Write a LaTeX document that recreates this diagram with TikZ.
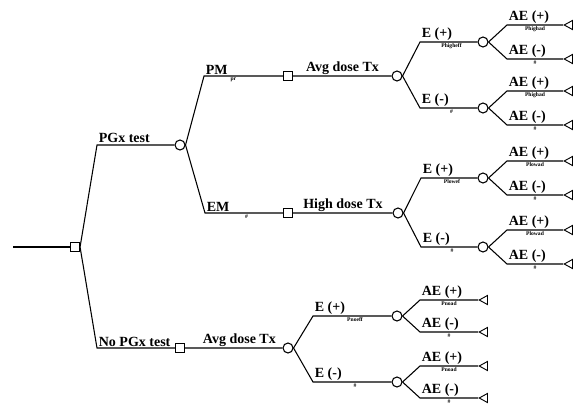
\documentclass[tikz,border=0pt]{standalone}
\usepackage{fontspec}
\setmainfont{Liberation Serif}
\usetikzlibrary{calc,shapes.geometric}

\begin{document}
\begin{tikzpicture}[x=0.75pt,y=-0.75pt,line width=0.8pt,
  chance/.style={circle,draw,fill=white,inner sep=0pt,minimum size=7.5pt},
  decision/.style={rectangle,draw,fill=white,inner sep=0pt,minimum size=6.8pt},
  terminal/.style={isosceles triangle,isosceles triangle stretches,shape border rotate=180,draw,fill=white,inner sep=0pt,minimum width=6.8pt,minimum height=6.2pt,line width=0.7pt},
  lbl/.style={font=\fontsize{10.5}{12}\selectfont\bfseries,inner sep=1pt},
  prob/.style={font=\fontsize{4.2}{5}\selectfont\bfseries,inner sep=1pt}]
\useasboundingbox (0,0) rectangle (581,407);
% root decision
\coordinate (r) at (13,247);
\node[decision] (d0) at (75,247) {};
\draw (r) -- (d0);
% test / no test
\coordinate (k1) at (97,145);
\node[chance] (c1) at (180,145) {};
\draw (d0.east) -- (k1) -- (c1);
\node[lbl,anchor=south west] (lPGx) at (k1) {PGx test};
\coordinate (k2) at (97,348);
\node[decision] (d2) at (180,348) {};
\node[chance] (c2) at (288,348) {};
\draw (d0.east) -- (k2) -- (d2) -- (c2);
\node[lbl,anchor=south west] (lNoPGx) at (k2) {No PGx test};
\node[lbl,above] (lAvg2) at ($(d2)!.55!(c2)$) {Avg dose Tx};
% phenotypes
\coordinate (kPM) at (204,76);
\node[decision] (dPM) at (288,76) {};
\node[chance] (cPM) at (397,76) {};
\draw (c1.east) -- (kPM) -- (dPM) -- (cPM);
\node[lbl,anchor=south west] (lPM) at (kPM) {PM};
\node[prob,below] (pPM) at ($(kPM)!.35!(dPM)$) {pr};
\node[lbl,above] (lAvgPM) at ($(dPM)!.5!(cPM)$) {Avg dose Tx};
\coordinate (kEM) at (205,213);
\node[decision] (dEM) at (288,213) {};
\node[chance] (cEM) at (398,213) {};
\draw (c1.east) -- (kEM) -- (dEM) -- (cEM);
\node[lbl,anchor=south west] (lEM) at (kEM) {EM};
\node[prob,below] (pEM) at ($(kEM)!.5!(dEM)$) {\#};
\node[lbl,above] (lHigh) at ($(dEM)!.5!(cEM)$) {High dose Tx};
% efficacy and adverse events
\foreach \g/\up/\yp/\ym/\kx/\cx/\adx/\tdx/\ady/\pe/\pa in
  {1/cPM/42/108/420/483/24/80/17/Phigheff/Phighad,
   2/cEM/178/247/421/483/24/80/17/Plowef/Plowad,
   3/c2/316/382/313/397/23/81/16/Pnoeff/Pnoad}{
  \coordinate (k\g p) at (\kx,\yp);
  \node[chance] (e\g p) at (\cx,\yp) {};
  \draw (\up.east) -- (k\g p) -- (e\g p);
  \node[lbl,anchor=south west] (le\g p) at (k\g p) {E (+)};
  \node[prob,below] (pe\g p) at ($(k\g p)!.5!(e\g p)$) {\pe};
  \coordinate (k\g m) at (\kx,\ym);
  \node[chance] (e\g m) at (\cx,\ym) {};
  \draw (\up.east) -- (k\g m) -- (e\g m);
  \node[lbl,anchor=south west] (le\g m) at (k\g m) {E (-)};
  \node[prob,below] (pe\g m) at ($(k\g m)!.5!(e\g m)$) {\#};
  \foreach \s in {p,m}{
    \coordinate (a\g\s p) at ($(e\g\s)+(\adx,-\ady)$);
    \node[terminal,anchor=apex] (t\g\s p) at ($(e\g\s)+(\tdx,-\ady)$) {};
    \draw (e\g\s.east) -- (a\g\s p) -- (t\g\s p.apex);
    \node[lbl,anchor=south west] (la\g\s p) at (a\g\s p) {AE (+)};
    \node[prob,below] (pa\g\s p) at ($(a\g\s p)!.5!(t\g\s p.apex)$) {\pa};
    \coordinate (a\g\s m) at ($(e\g\s)+(\adx,\ady)$);
    \node[terminal,anchor=apex] (t\g\s m) at ($(e\g\s)+(\tdx,\ady)$) {};
    \draw (e\g\s.east) -- (a\g\s m) -- (t\g\s m.apex);
    \node[lbl,anchor=south west] (la\g\s m) at (a\g\s m) {AE (-)};
    \node[prob,below] (pa\g\s m) at ($(a\g\s m)!.5!(t\g\s m.apex)$) {\#};
  }
}
\end{tikzpicture}
\end{document}
